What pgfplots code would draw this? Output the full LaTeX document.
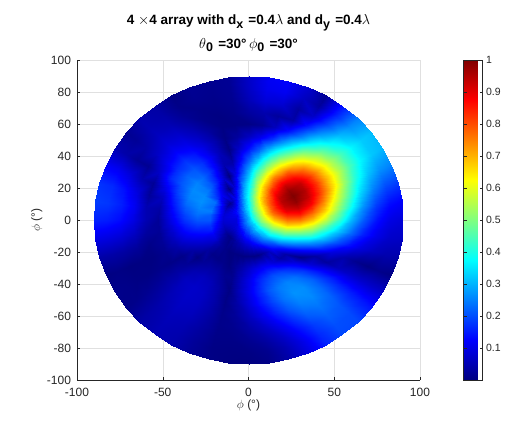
\documentclass[border=0pt]{standalone}
\usepackage{pgfplots}
\pgfplotsset{compat=1.18}
\usepackage{fontspec}
\setmainfont{Liberation Sans}

\definecolor{matax}{rgb}{0.15,0.15,0.15}
\definecolor{matgrid}{rgb}{0.88,0.88,0.88}
\pgfplotsset{
  colormap={matjet}{rgb255(0)=(0,0,128) rgb255(1)=(0,0,255) rgb255(3)=(0,255,255)
    rgb255(5)=(255,255,0) rgb255(7)=(255,0,0) rgb255(8)=(128,0,0)},
  /pgf/number format/assume math mode=true,
}
% MATLAB-like subscript: nearly full size, dropped below the baseline
\newcommand\msub[1]{\raisebox{-0.5ex}{\fontsize{12.5}{13}\selectfont #1}\hspace{1.5pt}}

\begin{document}
\begin{tikzpicture}
\begin{axis}[
    at={(0,0)}, anchor=south west,
    set layers,
    scale only axis, width=343pt, height=320pt,
    view={0}{90},
    xmin=-100, xmax=100, ymin=-100, ymax=100,
    xtick={-100,-50,0,50,100},
    ytick={-100,-80,-60,-40,-20,0,20,40,60,80,100},
    ztick=\empty,
    axis x line*=bottom, axis y line*=left,
    axis line style={matax, line width=0.6pt, -},
    xmajorgrids, ymajorgrids,
    major grid style={matgrid, line width=0.5pt},
    tick align=inside, major tick length=3pt,
    tick style={matax, line width=0.5pt},
    ticklabel style={font=\fontsize{12}{14}\selectfont, text=matax},
    xticklabel style={yshift=-5pt},
    yticklabel style={xshift=-2.5pt},
    colormap name=matjet,
    point meta min=0, point meta max=1,
    colorbar,
    colorbar style={
        at={(parent axis.north east)}, anchor=north west, xshift=35pt,
        scale only axis, width=19pt,
        ytick={0.1,0.2,0.3,0.4,0.5,0.6,0.7,0.8,0.9,1},
        yticklabel style={font=\fontsize{10.5}{12}\selectfont, text=matax},
        tick align=inside, major tick length=3pt,
        tick style={matax, line width=0.5pt},
        axis line style={matax, line width=0.5pt},
    },
    every axis title shift=0pt,
    title style={at={(0.5,1)}, anchor=south, yshift=8pt, inner sep=0pt,
        align=center, font=\bfseries\fontsize{13.5}{23.5}\selectfont},
    title={4 $\times$4 array with d\msub{x} =0.4$\lambda$ and d\msub{y} =0.4$\lambda$\\
        $\theta$\msub{0} =30°$\,\phi$\msub{0} =30°},
    xlabel={$\phi$ (°)}, ylabel={$\phi$ (°)},
    xlabel style={at={(0.5,0)}, anchor=base, yshift=-28pt, font=\fontsize{12}{14}\selectfont, text=matax},
    ylabel style={at={(0,0.5)}, anchor=base, yshift=37pt, font=\fontsize{12}{14}\selectfont, text=matax},
]
\addplot3[surf, shader=interp, mesh/rows=13, mesh/cols=49] coordinates {
(0,0,0.305) (0,0,0.305) (0,0,0.305) (0,0,0.305) (0,0,0.305) (0,0,0.305) (0,0,0.305) (0,0,0.305) (0,0,0.305) (0,0,0.305) (0,0,0.305) (0,0,0.305) (0,0,0.305) (0,0,0.305) (0,0,0.305) (0,0,0.305) (0,0,0.305) (0,0,0.305) (0,0,0.305) (0,0,0.305) (0,0,0.305) (0,0,0.305) (0,0,0.305) (0,0,0.305) (0,0,0.305) (0,0,0.305) (0,0,0.305) (0,0,0.305) (0,0,0.305) (0,0,0.305) (0,0,0.305) (0,0,0.305) (0,0,0.305) (0,0,0.305) (0,0,0.305) (0,0,0.305) (0,0,0.305) (0,0,0.305) (0,0,0.305) (0,0,0.305) (0,0,0.305) (0,0,0.305) (0,0,0.305) (0,0,0.305) (0,0,0.305) (0,0,0.305) (0,0,0.305) (0,0,0.305) (0,0,0.305)
(7.5,0,.518) (7.44,0.98,.534) (7.24,1.94,.546) (6.93,2.87,.554) (6.5,3.75,.554) (5.95,4.57,.548) (5.3,5.3,.538) (4.57,5.95,.521) (3.75,6.5,.499) (2.87,6.93,.472) (1.94,7.24,.443) (0.98,7.44,.409) (0,7.5,.374) (-0.98,7.44,.339) (-1.94,7.24,.303) (-2.87,6.93,.269) (-3.75,6.5,.235) (-4.57,5.95,.205) (-5.3,5.3,.177) (-5.95,4.57,.153) (-6.5,3.75,.132) (-6.93,2.87,.116) (-7.24,1.94,.104) (-7.44,0.98,.096) (-7.5,0,.091) (-7.44,-0.98,.089) (-7.24,-1.94,.089) (-6.93,-2.87,.093) (-6.5,-3.75,.098) (-5.95,-4.57,.107) (-5.3,-5.3,.116) (-4.57,-5.95,.128) (-3.75,-6.5,.139) (-2.87,-6.93,.154) (-1.94,-7.24,.168) (-0.98,-7.44,.185) (0,-7.5,.203) (0.98,-7.44,.224) (1.94,-7.24,.246) (2.87,-6.93,.270) (3.75,-6.5,.296) (4.57,-5.95,.324) (5.3,-5.3,.353) (5.95,-4.57,.383) (6.5,-3.75,.413) (6.93,-2.87,.443) (7.24,-1.94,.469) (7.44,-0.98,.495) (7.5,0,.518)
(15,0,.678) (14.87,1.96,.723) (14.49,3.88,.759) (13.86,5.74,.782) (12.99,7.5,.786) (11.9,9.13,.778) (10.61,10.61,.755) (9.13,11.9,.717) (7.5,12.99,.669) (5.74,13.86,.609) (3.88,14.49,.543) (1.96,14.87,.472) (0,15,.397) (-1.96,14.87,.323) (-3.88,14.49,.250) (-5.74,13.86,.182) (-7.5,12.99,.120) (-9.13,11.9,.063) (-10.61,10.61,.016) (-11.9,9.13,.023) (-12.99,7.5,.051) (-13.86,5.74,.070) (-14.49,3.88,.081) (-14.87,1.96,.085) (-15,0,.082) (-14.87,-1.96,.073) (-14.49,-3.88,.060) (-13.86,-5.74,.045) (-12.99,-7.5,.028) (-11.9,-9.13,.011) (-10.61,-10.61,.006) (-9.13,-11.9,.022) (-7.5,-12.99,.037) (-5.74,-13.86,.050) (-3.88,-14.49,.063) (-1.96,-14.87,.076) (0,-15,.092) (1.96,-14.87,.111) (3.88,-14.49,.136) (5.74,-13.86,.167) (7.5,-12.99,.206) (9.13,-11.9,.252) (10.61,-10.61,.305) (11.9,-9.13,.365) (12.99,-7.5,.429) (13.86,-5.74,.496) (14.49,-3.88,.561) (14.87,-1.96,.621) (15,0,.678)
(22.5,0,.761) (22.31,2.94,.840) (21.73,5.82,.897) (20.79,8.61,.934) (19.49,11.25,.946) (17.85,13.7,.932) (15.91,15.91,.895) (13.7,17.85,.840) (11.25,19.49,.762) (8.61,20.79,.673) (5.82,21.73,.574) (2.94,22.31,.472) (0,22.5,.369) (-2.94,22.31,.269) (-5.82,21.73,.171) (-8.61,20.79,.082) (-11.25,19.49,.001) (-13.7,17.85,.066) (-15.91,15.91,.124) (-17.85,13.7,.165) (-19.49,11.25,.234) (-20.79,8.61,.227) (-21.73,5.82,.247) (-22.31,2.94,.217) (-22.5,0,.208) (-22.31,-2.94,.174) (-21.73,-5.82,.157) (-20.79,-8.61,.113) (-19.49,-11.25,.090) (-17.85,-13.7,.048) (-15.91,-15.91,.026) (-13.7,-17.85,.009) (-11.25,-19.49,.000) (-8.61,-20.79,.003) (-5.82,-21.73,.002) (-2.94,-22.31,.002) (0,-22.5,.006) (2.94,-22.31,.004) (5.82,-21.73,.005) (8.61,-20.79,.027) (11.25,-19.49,.064) (13.7,-17.85,.116) (15.91,-15.91,.185) (17.85,-13.7,.269) (19.49,-11.25,.363) (20.79,-8.61,.465) (21.73,-5.82,.570) (22.31,-2.94,.671) (22.5,0,.761)
(30,0,.755) (29.74,3.92,.855) (28.98,7.76,.932) (27.72,11.48,.983) (25.98,15,1.000) (23.8,18.26,.983) (21.21,21.21,.934) (18.26,23.8,.856) (15,25.98,.759) (11.48,27.72,.649) (7.76,28.98,.534) (3.92,29.74,.418) (0,30,.305) (-3.92,29.74,.197) (-7.76,28.98,.096) (-11.48,27.72,.001) (-15,25.98,.081) (-18.26,23.8,.152) (-21.21,21.21,.207) (-23.8,18.26,.243) (-25.98,15,.262) (-27.72,11.48,.266) (-28.98,7.76,.254) (-29.74,3.92,.235) (-30,0,.208) (-29.74,-3.92,.175) (-28.98,-7.76,.139) (-27.72,-11.48,.102) (-25.98,-15,.066) (-23.8,-18.26,.033) (-21.21,-21.21,.008) (-18.26,-23.8,.006) (-15,-25.98,.009) (-11.48,-27.72,.000) (-7.76,-28.98,.019) (-3.92,-29.74,.045) (0,-30,.072) (3.92,-29.74,.095) (7.76,-28.98,.108) (11.48,-27.72,.105) (15,-25.98,.081) (18.26,-23.8,.036) (21.21,-21.21,.037) (23.8,-18.26,.134) (25.98,-15,.250) (27.72,-11.48,.378) (28.98,-7.76,.509) (29.74,-3.92,.637) (30,0,.755)
(37.5,0,.677) (37.18,4.89,.787) (36.22,9.71,.877) (34.65,14.35,.932) (32.48,18.75,.953) (29.75,22.83,.932) (26.52,26.52,.874) (22.83,29.75,.784) (18.75,32.48,.672) (14.35,34.65,.554) (9.71,36.22,.435) (4.89,37.18,.324) (0,37.5,.222) (-4.89,37.18,.127) (-9.71,36.22,.038) (-14.35,34.65,.044) (-18.75,32.48,.119) (-22.83,29.75,.183) (-26.52,26.52,.229) (-29.75,22.83,.254) (-32.48,18.75,.261) (-34.65,14.35,.252) (-36.22,9.71,.229) (-37.18,4.89,.201) (-37.5,0,.171) (-37.18,-4.89,.141) (-36.22,-9.71,.107) (-34.65,-14.35,.073) (-32.48,-18.75,.036) (-29.75,-22.83,.002) (-26.52,-26.52,.023) (-22.83,-29.75,.037) (-18.75,-32.48,.034) (-14.35,-34.65,.016) (-9.71,-36.22,.016) (-4.89,-37.18,.058) (0,-37.5,.103) (4.89,-37.18,.147) (9.71,-36.22,.181) (14.35,-34.65,.200) (18.75,-32.48,.193) (22.83,-29.75,.159) (26.52,-26.52,.089) (29.75,-22.83,.008) (32.48,-18.75,.130) (34.65,-14.35,.269) (36.22,-9.71,.411) (37.18,-4.89,.549) (37.5,0,.677)
(45,0,.558) (44.61,5.87,.665) (43.47,11.65,.755) (41.58,17.22,.815) (38.97,22.5,.838) (35.7,27.4,.816) (31.82,31.82,.755) (27.4,35.7,.656) (22.5,38.97,.536) (17.22,41.58,.415) (11.65,43.47,.305) (5.87,44.61,.213) (0,45,.137) (-5.87,44.61,.070) (-11.65,43.47,.006) (-17.22,41.58,.057) (-22.5,38.97,.119) (-27.4,35.7,.172) (-31.82,31.82,.208) (-35.7,27.4,.220) (-38.97,22.5,.212) (-41.58,17.22,.186) (-43.47,11.65,.154) (-44.61,5.87,.125) (-45,0,.102) (-44.61,-5.87,.082) (-43.47,-11.65,.062) (-41.58,-17.22,.038) (-38.97,-22.5,.008) (-35.7,-27.4,.022) (-31.82,-31.82,.049) (-27.4,-35.7,.062) (-22.5,-38.97,.056) (-17.22,-41.58,.034) (-11.65,-43.47,.004) (-5.87,-44.61,.053) (0,-45,.106) (5.87,-44.61,.160) (11.65,-43.47,.208) (17.22,-41.58,.243) (22.5,-38.97,.254) (27.4,-35.7,.235) (31.82,-31.82,.179) (35.7,-27.4,.083) (38.97,-22.5,.033) (41.58,-17.22,.168) (43.47,-11.65,.305) (44.61,-5.87,.436) (45,0,.558)
(52.5,0,.427) (52.05,6.85,.521) (50.71,13.59,.606) (48.5,20.09,.671) (45.47,26.25,.698) (41.65,31.96,.679) (37.12,37.12,.613) (31.96,41.65,.509) (26.25,45.47,.386) (20.09,48.5,.269) (13.59,50.71,.173) (6.85,52.05,.106) (0,52.5,.063) (-6.85,52.05,.030) (-13.59,50.71,.005) (-20.09,48.5,.048) (-26.25,45.47,.095) (-31.96,41.65,.139) (-37.12,37.12,.174) (-41.65,31.96,.165) (-45.47,26.25,.165) (-48.5,20.09,.101) (-50.71,13.59,.062) (-52.05,6.85,.035) (-52.5,0,.023) (-52.05,-6.85,.022) (-50.71,-13.59,.022) (-48.5,-20.09,.014) (-45.47,-26.25,.007) (-41.65,-31.96,.033) (-37.12,-37.12,.063) (-31.96,-41.65,.072) (-26.25,-45.47,.066) (-20.09,-48.5,.042) (-13.59,-50.71,.006) (-6.85,-52.05,.039) (0,-52.5,.088) (6.85,-52.05,.140) (13.59,-50.71,.193) (20.09,-48.5,.239) (26.25,-45.47,.268) (31.96,-41.65,.263) (37.12,-37.12,.219) (41.65,-31.96,.137) (45.47,-26.25,.030) (48.5,-20.09,.093) (50.71,-13.59,.213) (52.05,-6.85,.324) (52.5,0,.427)
(60,0,.305) (59.48,7.83,.383) (57.96,15.53,.461) (55.43,22.96,.526) (51.96,30,.561) (47.6,36.53,.548) (42.43,42.43,.481) (36.53,47.6,.374) (30,51.96,.250) (22.96,55.43,.138) (15.53,57.96,.060) (7.83,59.48,.019) (0,60,.006) (-7.83,59.48,.004) (-15.53,57.96,.004) (-22.96,55.43,.028) (-30,51.96,.066) (-36.53,47.6,.102) (-42.43,42.43,.122) (-47.6,36.53,.110) (-51.96,30,.071) (-55.43,22.96,.020) (-57.96,15.53,.025) (-59.48,7.83,.048) (-60,0,.048) (-59.48,-7.83,.029) (-57.96,-15.53,.008) (-55.43,-22.96,.002) (-51.96,-30,.008) (-47.6,-36.53,.032) (-42.43,-42.43,.058) (-36.53,-47.6,.071) (-30,-51.96,.066) (-22.96,-55.43,.043) (-15.53,-57.96,.010) (-7.83,-59.48,.025) (0,-60,.062) (7.83,-59.48,.107) (15.53,-57.96,.155) (22.96,-55.43,.209) (30,-51.96,.250) (36.53,-47.6,.260) (42.43,-42.43,.228) (47.6,-36.53,.158) (51.96,-30,.060) (55.43,-22.96,.044) (57.96,-15.53,.142) (59.48,-7.83,.227) (60,0,.305)
(67.5,0,.208) (66.92,8.81,.269) (65.2,17.47,.339) (62.36,25.83,.407) (58.46,33.75,.448) (53.55,41.09,.443) (47.73,47.73,.378) (41.09,53.55,.269) (33.75,58.46,.144) (25.83,62.36,.037) (17.47,65.2,.027) (8.81,66.92,.044) (0,67.5,.031) (-8.81,66.92,.009) (-17.47,65.2,.002) (-25.83,62.36,.008) (-33.75,58.46,.039) (-41.09,53.55,.073) (-47.73,47.73,.086) (-53.55,41.09,.067) (-58.46,33.75,.017) (-62.36,25.83,.044) (-65.2,17.47,.092) (-66.92,8.81,.113) (-67.5,0,.098) (-66.92,-8.81,.064) (-65.2,-17.47,.025) (-62.36,-25.83,.002) (-58.46,-33.75,.003) (-53.55,-41.09,.024) (-47.73,-47.73,.050) (-41.09,-53.55,.065) (-33.75,-58.46,.059) (-25.83,-62.36,.037) (-17.47,-65.2,.010) (-8.81,-66.92,.014) (0,-67.5,.037) (8.81,-66.92,.067) (17.47,-65.2,.111) (25.83,-62.36,.166) (33.75,-58.46,.217) (41.09,-53.55,.239) (47.73,-47.73,.221) (53.55,-41.09,.160) (58.46,-33.75,.072) (62.36,-25.83,.016) (65.2,-17.47,.093) (66.92,-8.81,.154) (67.5,0,.208)
(75,0,.138) (74.36,9.79,.186) (72.44,19.41,.250) (69.29,28.7,.319) (64.95,37.5,.368) (59.51,45.66,.367) (53.03,53.03,.305) (45.66,59.51,.195) (37.5,64.95,.071) (28.7,69.29,.031) (19.41,72.44,.081) (9.79,74.36,.086) (0,75,.055) (-9.79,74.36,.016) (-19.41,72.44,.009) (-28.7,69.29,.007) (-37.5,64.95,.019) (-45.66,59.51,.051) (-53.03,53.03,.062) (-59.51,45.66,.038) (-64.95,37.5,.020) (-69.29,28.7,.087) (-72.44,19.41,.138) (-74.36,9.79,.154) (-75,0,.133) (-74.36,-9.79,.085) (-72.44,-19.41,.035) (-69.29,-28.7,.001) (-64.95,-37.5,.004) (-59.51,-45.66,.016) (-53.03,-53.03,.042) (-45.66,-59.51,.057) (-37.5,-64.95,.050) (-28.7,-69.29,.030) (-19.41,-72.44,.008) (-9.79,-74.36,.007) (0,-75,.017) (9.79,-74.36,.035) (19.41,-72.44,.071) (28.7,-69.29,.127) (37.5,-64.95,.184) (45.66,-59.51,.218) (53.03,-53.03,.208) (59.51,-45.66,.153) (64.95,-37.5,.074) (69.29,-28.7,.003) (72.44,-19.41,.063) (74.36,-9.79,.103) (75,0,.138)
(82.5,0,.098) (81.79,10.77,.136) (79.69,21.35,.198) (76.22,31.57,.269) (71.45,41.25,.321) (65.46,50.23,.324) (58.34,58.34,.263) (50.23,65.46,.153) (41.25,71.45,.029) (31.57,76.22,.066) (21.35,79.69,.113) (10.77,81.79,.108) (0,82.5,.068) (-10.77,81.79,.019) (-21.35,79.69,.013) (-31.57,76.22,.016) (-41.25,71.45,.008) (-50.23,65.46,.039) (-58.34,58.34,.049) (-65.46,50.23,.022) (-71.45,41.25,.040) (-76.22,31.57,.112) (-79.69,21.35,.164) (-81.79,10.77,.177) (-82.5,0,.150) (-81.79,-10.77,.097) (-79.69,-21.35,.039) (-76.22,-31.57,.005) (-71.45,-41.25,.009) (-65.46,-50.23,.010) (-58.34,-58.34,.037) (-50.23,-65.46,.052) (-41.25,-71.45,.045) (-31.57,-76.22,.024) (-21.35,-79.69,.005) (-10.77,-81.79,.003) (0,-82.5,.004) (10.77,-81.79,.014) (21.35,-79.69,.047) (31.57,-76.22,.101) (41.25,-71.45,.164) (50.23,-65.46,.201) (58.34,-58.34,.197) (65.46,-50.23,.147) (71.45,-41.25,.073) (76.22,-31.57,.011) (79.69,-21.35,.047) (81.79,-10.77,.074) (82.5,0,.098)
(90,0,.085) (89.23,11.75,.121) (86.93,23.29,.180) (83.15,34.44,.251) (77.94,45,.305) (71.41,54.79,.310) (63.64,63.64,.249) (54.79,71.41,.139) (45,77.94,.016) (34.44,83.15,.078) (23.29,86.93,.123) (11.75,89.23,.115) (0,90,.072) (-11.75,89.23,.020) (-23.29,86.93,.015) (-34.44,83.15,.019) (-45,77.94,.004) (-54.79,71.41,.035) (-63.64,63.64,.045) (-71.41,54.79,.017) (-77.94,45,.048) (-83.15,34.44,.119) (-86.93,23.29,.173) (-89.23,11.75,.184) (-90,0,.156) (-89.23,-11.75,.100) (-86.93,-23.29,.040) (-83.15,-34.44,.002) (-77.94,-45,.011) (-71.41,-54.79,.008) (-63.64,-63.64,.035) (-54.79,-71.41,.050) (-45,-77.94,.042) (-34.44,-83.15,.022) (-23.29,-86.93,.005) (-11.75,-89.23,.001) (0,-90,.000) (11.75,-89.23,.007) (23.29,-86.93,.038) (34.44,-83.15,.092) (45,-77.94,.154) (54.79,-71.41,.195) (63.64,-63.64,.194) (71.41,-54.79,.144) (77.94,-45,.072) (83.15,-34.44,.004) (86.93,-23.29,.042) (89.23,-11.75,.066) (90,0,.085)
};
\end{axis}
\pgfresetboundingbox
\path[use as bounding box] (-77pt,-43pt) rectangle (436pt,380pt);
\end{tikzpicture}
\end{document}
